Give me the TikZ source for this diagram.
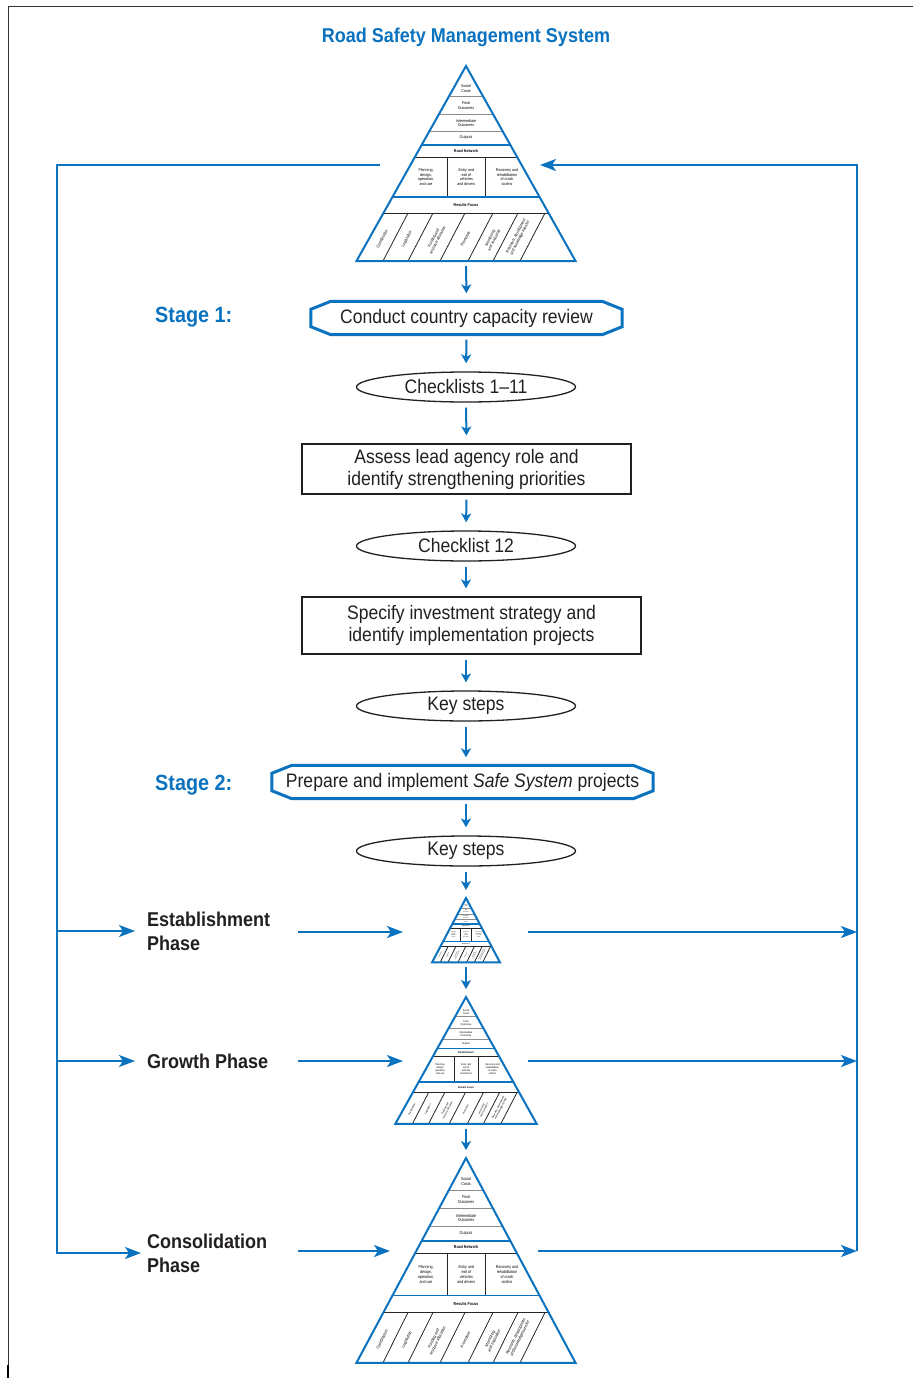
\documentclass[tikz,border=0pt]{standalone}
\usepackage{fontspec}
\setmainfont{Liberation Sans}[FakeStretch=0.9]
\usetikzlibrary{shapes.geometric,arrows.meta,calc}
\definecolor{rsblue}{HTML}{0A72BE}
\definecolor{rstext}{HTML}{231F20}
\newcommand\rsflow{\fontsize{19.5}{22}\selectfont}
\newcommand\rstitle{\fontsize{20}{24}\selectfont\bfseries}
\newcommand\rsstage{\fontsize{22}{26}\selectfont\bfseries}
\newcommand\rsphase{\fontsize{20}{24}\selectfont\bfseries}
\newcommand\rspyr{\fontsize{4}{4.5}\selectfont}
\tikzset{
  flowline/.style={draw=rsblue, line width=2pt},
  flowarrow/.style={flowline, -{Stealth[length=9pt,width=10pt,inset=2.5pt]}, shorten <=5pt, shorten >=8pt},
  bigarrow/.style={flowline, -{Stealth[length=16pt,width=12pt,inset=4pt]}},
  stagebox/.style={rectangle, draw=none, text=rstext, font=\rsflow, inner sep=0pt},
  stageline/.style={draw=rsblue, line width=3pt, line join=miter},
  ovalbox/.style={ellipse, draw=rstext, line width=1.3pt, minimum width=219pt, minimum height=30pt,
    inner sep=0pt, text=rstext, font=\rsflow},
  rectbox/.style={rectangle, draw=rstext, line width=1.3pt, text=rstext, font=\rsflow, align=center, inner sep=0pt},
  stagelabel/.style={text=rsblue, font=\rsstage, anchor=west, inner sep=0pt},
  phaselabel/.style={text=rstext, font=\rsphase, anchor=west, align=left, inner sep=0pt},
  titletext/.style={text=rsblue, font=\rstitle, inner sep=0pt},
  pyrouter/.style={draw=rsblue, line width=2pt, line join=miter},
  pyrblue/.style={draw=rsblue, line width=1.4pt},
  pyrblack/.style={draw=black!85, line width=0.8pt},
  pyrgray/.style={draw=black!45, line width=0.9pt},
  pyrtext/.style={font=\rspyr, align=center, inner sep=0pt, text=black},
  pyrbold/.style={font=\rspyr\bfseries, align=center, inner sep=0pt, text=black},
}
% chamfered outline around a named (borderless) node
\newcommand\rsoutline[1]{%
  \draw[stageline] ([xshift=20pt]#1.north west) -- ([xshift=-20pt]#1.north east)
    -- ([yshift=-8pt]#1.north east) -- ([yshift=8pt]#1.south east)
    -- ([xshift=-20pt]#1.south east) -- ([xshift=20pt]#1.south west)
    -- ([yshift=8pt]#1.south west) -- ([yshift=-8pt]#1.north west) -- cycle;}
\newcommand\rspyramid[5]{%
\begin{scope}[shift={(#2,#3)},xscale=#4,yscale=#5,transform shape]
  \coordinate (#1-apex) at (0,0);
  \coordinate (#1-base) at (0,195);
  \fill[white] (0,0) -- (109.5,195) -- (-109.5,195) -- cycle;
  \foreach \yy in {30.5,48.5,65.5}{\draw[pyrgray] ({-0.5615*\yy},\yy) -- ({0.5615*\yy},\yy);}
  \draw[pyrblack] (-51.1,91) -- (51.1,91);
  \draw[pyrblack] (-82.5,147) -- (82.5,147);
  \draw[pyrblack] (-18.3,91) -- (-18.3,131) (19,91) -- (19,131);
  \foreach \bx in {-83,-58,-26,2,27,54}{\draw[pyrblack] (\bx,195) -- (\bx+25,147);}
  \draw[pyrblue] (-44.4,79) -- (44.4,79);
  \draw[pyrblue] (-73.6,131) -- (73.6,131);
  \draw[pyrouter] (0,0) -- (109.5,195) -- (-109.5,195) -- cycle;
  \node[pyrtext] (#1-t1) at (0,22.5) {Social\\Costs};
  \node[pyrtext] (#1-t2) at (0,39.5) {Final\\Outcomes};
  \node[pyrtext] (#1-t3) at (0,57) {Intermediate\\Outcomes};
  \node[pyrtext] (#1-t4) at (0,72) {Outputs};
  \node[pyrbold] (#1-t5) at (0,85) {Road Network};
  \node[pyrtext] (#1-t6) at (-40,111) {Planning,\\design,\\operation,\\and use};
  \node[pyrtext] (#1-t7) at (0.3,111) {Entry and\\exit of\\vehicles\\and drivers};
  \node[pyrtext] (#1-t8) at (41,111) {Recovery and\\rehabilitation\\of crash\\victims};
  \node[pyrbold] (#1-t9) at (0,139) {Results Focus};
  \node[pyrtext, rotate=62.5] (#1-c1) at (-84,173) {Coordination};
  \node[pyrtext, rotate=62.5] (#1-c2) at (-59,173) {Legislation};
  \node[pyrtext, rotate=62.5] (#1-c3) at (-30.5,173) {Funding and\\resource allocation};
  \node[pyrtext, rotate=62.5] (#1-c4) at (-0.5,173) {Promotion};
  \node[pyrtext, rotate=62.5] (#1-c5) at (26,173) {Monitoring\\and evaluation};
  \node[pyrtext, rotate=62.5] (#1-c6) at (52,171) {Research, development\\and knowledge transfer};
\end{scope}}
\begin{document}
\begin{tikzpicture}[x=1pt,y=-1pt]
\useasboundingbox (0,0) rectangle (913,1378);
% frame
\draw[black!80, line width=0.8pt] (8,1365) -- (8,6) -- (913,6);
\draw[black, line width=2pt] (8,1365) -- (8,1378);
% title
\node[titletext] (title) at (466,37) {Road Safety Management System};
% pyramids
\rspyramid{P0}{466}{66}{1}{1}
\rspyramid{P1}{466}{898}{0.31}{0.33}
\rspyramid{P2}{466}{997}{0.645}{0.65}
\rspyramid{P3}{466}{1158}{1}{1.05}
% flow
\node[stagebox, minimum width=311pt, minimum height=33pt] (s1) at (466.5,318) {Conduct country capacity review};
\rsoutline{s1}
\node[stagelabel] (s1l) at (155,317.5) {Stage 1:};
\node[ovalbox] (c1) at (466,387) {Checklists 1–11};
\node[rectbox, minimum width=329pt, minimum height=50pt] (b1) at (466.5,469) {Assess lead agency role and\\identify strengthening priorities};
\node[ovalbox] (c2) at (466,546) {Checklist 12};
\node[rectbox, minimum width=339pt, minimum height=57pt] (b2) at (471.5,625.5) {Specify investment strategy and\\identify implementation projects};
\node[ovalbox] (k1) at (466,706) {Key steps};
\node[stagebox, minimum width=381pt, minimum height=33pt] (s2) at (462.5,782) {Prepare and implement \textit{Safe System} projects};
\rsoutline{s2}
\node[stagelabel] (s2l) at (155,785) {Stage 2:};
\node[ovalbox] (k2) at (466,851) {Key steps};
\draw[flowarrow] (P0-base) -- (s1.north);
\draw[flowarrow] (s1.south) -- (c1.north);
\draw[flowarrow] (c1.south) -- (b1.north);
\draw[flowarrow] (b1.south) -- (c2.north);
\draw[flowarrow] (c2.south) -- (b2.north -| c2.south);
\draw[flowarrow] (b2.south -| k1.north) -- (k1.north);
\draw[flowarrow] (k1.south) -- (s2.north -| k1.south);
\draw[flowarrow] (s2.south -| k2.north) -- (k2.north);
\draw[flowarrow] (k2.south) -- (P1-apex);
\draw[flowarrow] (P1-base) -- (P2-apex);
\draw[flowarrow] (P2-base) -- (P3-apex);
% phase labels
\node[phaselabel] (ph1) at (147,931) {Establishment\\Phase};
\node[phaselabel] (ph2) at (147,1061) {Growth Phase};
\node[phaselabel] (ph3) at (147,1253) {Consolidation\\Phase};
% left loop
\coordinate (Lt) at (380,165);
\coordinate (Lc) at (57,165);
\draw[bigarrow, shorten >=6pt] (Lt) -- (Lc) |- (ph3.west);
\draw[bigarrow, shorten >=12pt] (Lc |- ph1.west) -- (ph1.west);
\draw[bigarrow, shorten >=12pt] (Lc |- ph2.west) -- (ph2.west);
% middle arrows
\coordinate (M1a) at (298,932); \coordinate (M1b) at (403,932);
\coordinate (M2a) at (298,1061); \coordinate (M2b) at (403,1061);
\coordinate (M3a) at (298,1251); \coordinate (M3b) at (390,1251);
\draw[bigarrow] (M1a) -- (M1b);
\draw[bigarrow] (M2a) -- (M2b);
\draw[bigarrow] (M3a) -- (M3b);
% right loop
\coordinate (R1a) at (528,932); \coordinate (R1) at (857,932);
\coordinate (R2a) at (528,1061); \coordinate (R2) at (857,1061);
\coordinate (R3a) at (538,1251); \coordinate (R3) at (857,1251);
\coordinate (Rt) at (857,165); \coordinate (Rin) at (540,165);
\draw[bigarrow] (R1a) -- (R1);
\draw[bigarrow] (R2a) -- (R2);
\draw[bigarrow] (R3a) -- (R3);
\draw[bigarrow] (R3) -- (Rt) -- (Rin);
\end{tikzpicture}
\end{document}
